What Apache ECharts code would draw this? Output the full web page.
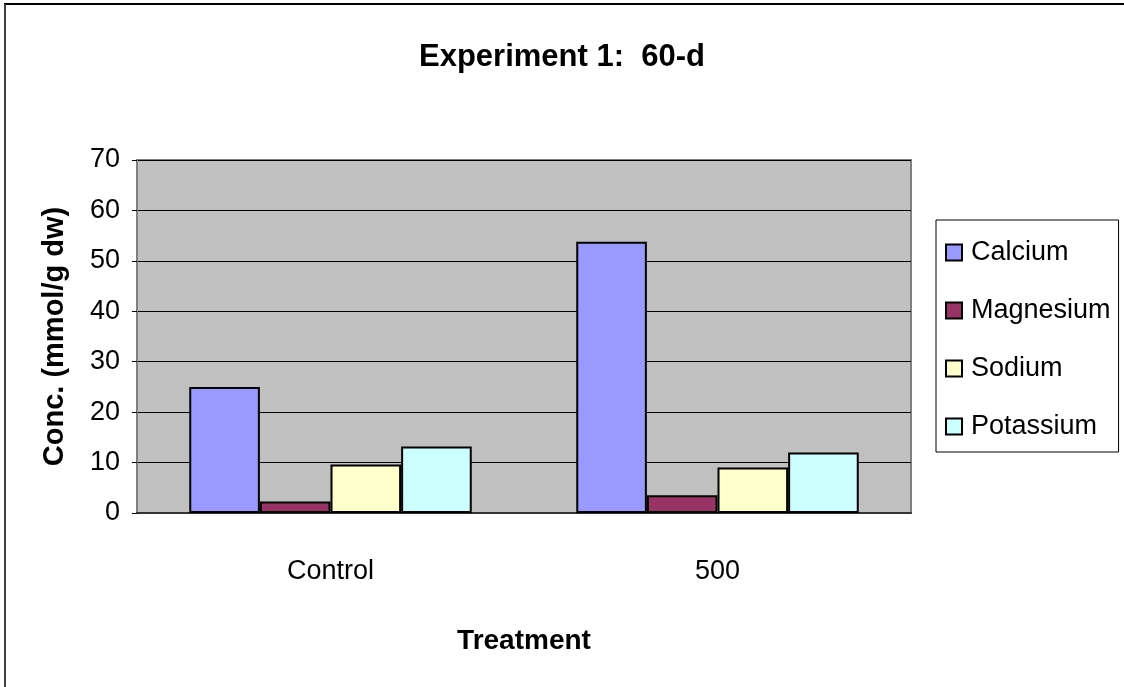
<!DOCTYPE html>
<html>
<head>
<meta charset="utf-8">
<script src="https://cdn.jsdelivr.net/npm/echarts@6/dist/echarts.min.js"></script>
<style>
html,body{margin:0;padding:0;background:#fff;}
#chart{width:1124px;height:687px;}
</style>
</head>
<body>
<div id="chart"></div>
<script>
const categories = ['Control', '500'];
const seriesNames = ['Calcium', 'Magnesium', 'Sodium', 'Potassium'];
const calcium = [25.0, 53.8];
const magnesium = [2.3, 3.5];
const sodium = [9.6, 9.0];
const potassium = [13.2, 12.0];
const yTicks = [0, 10, 20, 30, 40, 50, 60, 70];

const seriesValues = [calcium, magnesium, sodium, potassium];
const colors = ['#9999FF', '#993366', '#FFFFCC', '#CCFFFF'];
const FONT = "'Liberation Sans Narrow','Arial Narrow','Liberation Sans',Arial,sans-serif";
const SANS = "'Liberation Sans',Arial,sans-serif";

const chart = echarts.init(document.getElementById('chart'), null, {renderer: 'canvas'});
chart.setOption({
  animation: false,
  backgroundColor: '#fff',
  title: {
    text: 'Experiment 1:  60-d',
    left: 'center',
    top: 37,
    textStyle: {fontFamily: FONT, fontWeight: 'bold', fontSize: 31, color: '#000'}
  },
  graphic: [
    {type: 'line', shape: {x1: 4, y1: 4, x2: 1124, y2: 4}, style: {stroke: '#000', lineWidth: 2}},
    {type: 'line', shape: {x1: 5, y1: 4, x2: 5, y2: 687}, style: {stroke: '#404040', lineWidth: 2}}
  ],
  legend: {
    orient: 'vertical',
    left: 936,
    top: 220,
    data: seriesNames,
    icon: 'rect',
    itemWidth: 16,
    itemHeight: 16,
    itemGap: 31,
    padding: [19, 8, 12, 9],
    borderColor: '#000',
    borderWidth: 1,
    textStyle: {fontFamily: FONT, fontSize: 27, color: '#000', padding: [0, 0, 0, 4]}
  },
  grid: {
    left: 137, right: 213, top: 160, bottom: 174,
    show: true,
    backgroundColor: '#C0C0C0',
    borderColor: '#808080',
    borderWidth: 2
  },
  xAxis: {
    type: 'category',
    data: categories,
    name: 'Treatment',
    nameLocation: 'middle',
    nameGap: 114,
    nameTextStyle: {fontFamily: SANS, fontWeight: 'bold', fontSize: 28, color: '#000'},
    axisLine: {lineStyle: {color: '#333', width: 2}},
    axisTick: {show: false},
    axisLabel: {fontFamily: FONT, fontSize: 27, color: '#000', margin: 45}
  },
  yAxis: {
    type: 'value',
    min: yTicks[0],
    max: yTicks[yTicks.length - 1],
    interval: 10,
    name: 'Conc. (mmol/g dw)',
    nameLocation: 'middle',
    nameGap: 68,
    nameTextStyle: {fontFamily: SANS, fontWeight: 'bold', fontSize: 29, color: '#000'},
    axisLine: {show: true, lineStyle: {color: '#808080', width: 2}},
    axisTick: {show: true, inside: false, length: 5, lineStyle: {color: '#000'}},
    axisLabel: {fontFamily: FONT, fontSize: 27, color: '#000', margin: 17},
    splitLine: {show: true, lineStyle: {color: '#000', width: 1}}
  },
  series: seriesNames.map((n, i) => ({
    name: n,
    type: 'bar',
    data: seriesValues[i],
    barGap: '0%',
    barCategoryGap: '27%',
    itemStyle: {color: colors[i], borderColor: '#000', borderWidth: 2}
  }))
});
</script>
</body>
</html>
